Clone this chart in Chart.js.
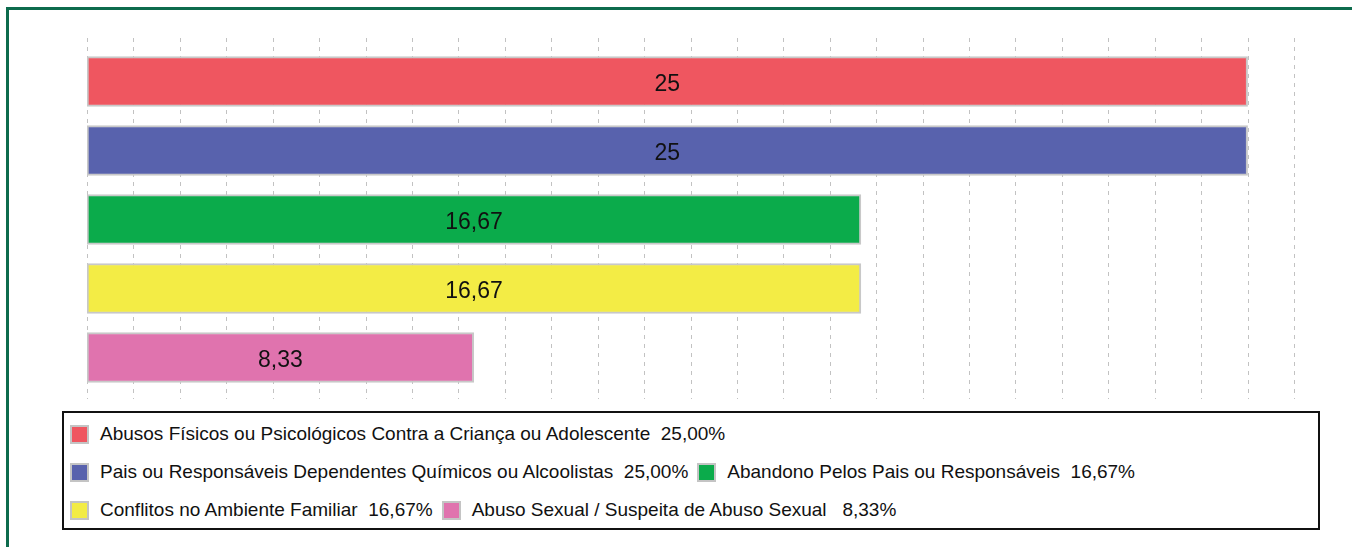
<!DOCTYPE html>
<html>
<head>
<meta charset="utf-8">
<script src="https://cdn.jsdelivr.net/npm/chart.js@4"></script>
<style>
  html, body { margin: 0; padding: 0; background: #fff; overflow: hidden; }
  body { width: 1352px; height: 547px; position: relative; font-family: "Liberation Sans", Arial, sans-serif; }
  #frame { position: absolute; left: 6px; top: 7px; width: 1400px; height: 600px; border: 3px solid #0d6b4d; box-sizing: border-box; }
  #wrap { position: absolute; left: 0; top: 0; width: 1352px; height: 410px; }
  #legend {
    position: absolute; left: 62px; top: 411px; width: 1258px; height: 119px;
    border: 2px solid #111; box-sizing: border-box; padding: 2px 0 0 6px;
    display: flex; flex-wrap: wrap; align-content: flex-start;
  }
  .item { display: flex; align-items: center; height: 38px; margin-right: 9px; white-space: pre; font-size: 19px; color: #111; }
  .sw { width: 15px; height: 15px; border: 2px solid #c4c4c4; margin-right: 11px; }
</style>
</head>
<body>
<div id="frame"></div>
<div id="wrap"><canvas id="myChart" width="1352" height="410"></canvas></div>
<div id="legend"></div>
<script>
const categories = [
  'Abusos Físicos ou Psicológicos Contra a Criança ou Adolescente',
  'Pais ou Responsáveis Dependentes Químicos ou Alcoolistas',
  'Abandono Pelos Pais ou Responsáveis',
  'Conflitos no Ambiente Familiar',
  'Abuso Sexual / Suspeita de Abuso Sexual',
];
const values = [25, 25, 16.67, 16.67, 8.33];
const colors = ['#ef5660', '#5862ad', '#0bab4b', '#f3ec45', '#e073ae'];
const axisMax = 26;

const fmt = (v) => String(v).replace('.', ',');

// dashed vertical grid, a little longer than the plot area
const gridPlugin = {
  id: 'dashGrid',
  beforeDatasetsDraw(chart) {
    const { ctx, chartArea, scales } = chart;
    ctx.save();
    ctx.strokeStyle = '#c2c2c2';
    ctx.lineWidth = 1;
    ctx.setLineDash([4, 5]);
    for (let v = 0; v <= axisMax; v++) {
      const x = Math.round(scales.x.getPixelForValue(v)) + 0.5;
      ctx.beginPath();
      ctx.moveTo(x, chartArea.top - 9);
      ctx.lineTo(x, chartArea.bottom + 7);
      ctx.stroke();
    }
    ctx.restore();
  }
};

const valueLabels = {
  id: 'valueLabels',
  afterDatasetsDraw(chart) {
    const { ctx } = chart;
    const meta = chart.getDatasetMeta(0);
    ctx.save();
    ctx.fillStyle = '#111';
    ctx.font = '23px "Liberation Sans", Arial, sans-serif';
    ctx.textAlign = 'center';
    ctx.textBaseline = 'middle';
    meta.data.forEach((bar, i) => {
      ctx.fillText(fmt(values[i]), (bar.x + bar.base) / 2, bar.y + 3);
    });
    ctx.restore();
  }
};

const ctx = document.getElementById('myChart');
const chart = new Chart(ctx, {
  type: 'bar',
  data: {
    labels: categories,
    datasets: [{
      data: values,
      backgroundColor: colors,
      borderColor: '#c8c8c8',
      borderWidth: 2,
      borderSkipped: false,
      barThickness: 50,
    }],
  },
  options: {
    indexAxis: 'y',
    responsive: false,
    animation: false,
    layout: { padding: { left: 87, right: 58, top: 47, bottom: 18 } },
    scales: {
      x: { display: false, min: 0, max: axisMax },
      y: { display: false },
    },
    plugins: {
      legend: { display: false },
      tooltip: { enabled: false },
    },
  },
  plugins: [gridPlugin, valueLabels],
});

// legend box
const legend = document.getElementById('legend');
categories.forEach((c, i) => {
  const pct = (values[i].toFixed(2).replace('.', ',') + '%').padStart(6, ' ');
  const item = document.createElement('div');
  item.className = 'item';
  const sw = document.createElement('span');
  sw.className = 'sw';
  sw.style.background = colors[i];
  const t = document.createElement('span');
  t.textContent = c + '  ' + pct;
  item.appendChild(sw);
  item.appendChild(t);
  legend.appendChild(item);
});
</script>
</body>
</html>
